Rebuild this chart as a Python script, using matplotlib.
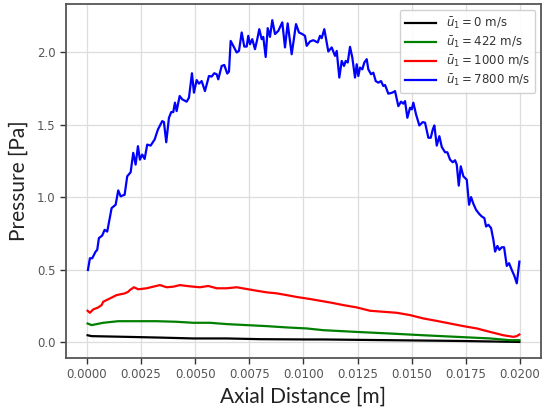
import matplotlib
matplotlib.use("Agg")
import matplotlib.pyplot as plt

# ---- data ----
blue_x = [0.000046, 0.000139, 0.000245, 0.000402, 0.000476, 0.000554, 0.000707, 0.000818, 0.000938, 0.001141,
          0.001326, 0.001446, 0.001557, 0.001741, 0.001861, 0.002019, 0.002139, 0.002249, 0.002356, 0.002448,
          0.002554, 0.002665, 0.002785, 0.002942, 0.003127, 0.003279, 0.003478, 0.003557, 0.003663, 0.003788,
          0.003894, 0.003986, 0.004065, 0.004143, 0.004282, 0.004402, 0.004605, 0.004711, 0.004850, 0.004942,
          0.005067, 0.005173, 0.005298, 0.005450, 0.005635, 0.005760, 0.005880, 0.005991, 0.006065, 0.006222,
          0.006342, 0.006480, 0.006559, 0.006637, 0.006758, 0.006915, 0.007021, 0.007146, 0.007266, 0.007377,
          0.007450, 0.007529, 0.007635, 0.007760, 0.007866, 0.007958, 0.008069, 0.008143, 0.008254, 0.008347,
          0.008453, 0.008559, 0.008684, 0.008836, 0.009021, 0.009146, 0.009270, 0.009455, 0.009654, 0.009792,
          0.009945, 0.010069, 0.010148, 0.010300, 0.010453, 0.010656, 0.010762, 0.010841, 0.010961, 0.011146,
          0.011303, 0.011455, 0.011534, 0.011654, 0.011765, 0.011871, 0.011949, 0.012042, 0.012148, 0.012254,
          0.012379, 0.012457, 0.012531, 0.012610, 0.012716, 0.012808, 0.012919, 0.012993, 0.013118, 0.013224,
          0.013335, 0.013455, 0.013580, 0.013686, 0.013765, 0.013917, 0.014102, 0.014226, 0.014379, 0.014504,
          0.014610, 0.014688, 0.014795, 0.014919, 0.014998, 0.015072, 0.015197, 0.015349, 0.015506, 0.015612,
          0.015765, 0.015876, 0.015968, 0.016042, 0.016153, 0.016273, 0.016384, 0.016536, 0.016642, 0.016767,
          0.016892, 0.016998, 0.017076, 0.017169, 0.017261, 0.017382, 0.017538, 0.017645, 0.017737, 0.017843,
          0.017968, 0.018106, 0.018231, 0.018351, 0.018430, 0.018536, 0.018661, 0.018767, 0.018846, 0.018952,
          0.019044, 0.019155, 0.019261, 0.019386, 0.019492, 0.019617, 0.019737, 0.019848, 0.019968]
blue_y = [0.498, 0.579, 0.579, 0.625, 0.637, 0.718, 0.736, 0.775, 0.763, 0.925,
          0.948, 1.047, 1.006, 1.017, 1.144, 1.172, 1.306, 1.225, 1.352, 1.259,
          1.294, 1.264, 1.363, 1.356, 1.398, 1.467, 1.525, 1.518, 1.379, 1.548,
          1.587, 1.587, 1.652, 1.594, 1.698, 1.675, 1.659, 1.686, 1.855, 1.721,
          1.808, 1.783, 1.801, 1.732, 1.836, 1.832, 1.855, 1.848, 1.813, 1.905,
          1.912, 1.853, 1.866, 2.078, 2.044, 1.998, 2.009, 2.136, 2.039, 2.039,
          2.113, 2.055, 2.090, 2.021, 2.090, 2.159, 2.090, 2.106, 1.967, 2.166,
          2.106, 2.221, 2.125, 2.147, 2.206, 2.033, 2.199, 1.986, 2.194, 2.136,
          2.125, 2.113, 2.044, 2.074, 2.083, 2.067, 2.113, 2.097, 2.159, 2.005,
          2.033, 1.975, 2.009, 1.825, 1.940, 1.905, 1.940, 1.929, 2.037, 1.963,
          1.825, 1.917, 1.836, 1.894, 1.882, 1.929, 1.952, 1.882, 1.848, 1.859,
          1.801, 1.790, 1.801, 1.767, 1.774, 1.714, 1.721, 1.732, 1.628, 1.659,
          1.645, 1.663, 1.548, 1.617, 1.606, 1.652, 1.571, 1.495, 1.518, 1.514,
          1.410, 1.410, 1.467, 1.495, 1.356, 1.421, 1.347, 1.310, 1.310, 1.259,
          1.241, 1.255, 1.225, 1.080, 1.213, 1.144, 1.121, 0.948, 1.001, 0.955,
          0.913, 0.886, 0.867, 0.856, 0.798, 0.810, 0.787, 0.706, 0.625, 0.664,
          0.637, 0.655, 0.655, 0.526, 0.545, 0.498, 0.457, 0.406, 0.556]

red_x = [0.000032, 0.000139, 0.000291, 0.000522, 0.000679, 0.000753, 0.001062, 0.001372, 0.001755, 0.001908,
         0.001986, 0.002171, 0.002370, 0.002758, 0.003062, 0.003372, 0.003681, 0.003986, 0.004296, 0.004605,
         0.004910, 0.005219, 0.005603, 0.005991, 0.006453, 0.006915, 0.007377, 0.007838, 0.008300, 0.008762,
         0.009224, 0.009686, 0.010300, 0.010762, 0.011303, 0.011838, 0.012457, 0.013072, 0.013686, 0.014305,
         0.014919, 0.015534, 0.016153, 0.016767, 0.017382, 0.018000, 0.018614, 0.019229, 0.019691, 0.019848,
         0.019968]
red_y = [0.217, 0.203, 0.226, 0.240, 0.256, 0.279, 0.302, 0.325, 0.337, 0.348,
         0.360, 0.379, 0.365, 0.372, 0.383, 0.394, 0.379, 0.383, 0.394, 0.388,
         0.383, 0.379, 0.388, 0.372, 0.372, 0.379, 0.367, 0.355, 0.344, 0.337,
         0.325, 0.312, 0.298, 0.286, 0.272, 0.256, 0.240, 0.217, 0.210, 0.203,
         0.187, 0.164, 0.147, 0.129, 0.111, 0.095, 0.071, 0.048, 0.037, 0.042,
         0.053]

green_x = [0.000032, 0.000217, 0.000753, 0.001446, 0.002448, 0.003219, 0.004143, 0.004910, 0.005681, 0.006453,
           0.007377, 0.008300, 0.009224, 0.010148, 0.010915, 0.012457, 0.013996, 0.015534, 0.017076, 0.018614,
           0.019538, 0.019968]
green_y = [0.129, 0.118, 0.134, 0.145, 0.145, 0.145, 0.141, 0.134, 0.134, 0.125,
           0.118, 0.111, 0.102, 0.095, 0.083, 0.071, 0.060, 0.048, 0.037, 0.026,
           0.014, 0.014]

black_x = [0.000032, 0.000217, 0.001834, 0.003372, 0.004910, 0.006453, 0.007991, 0.010148, 0.010915, 0.013996,
           0.017076, 0.019968]
black_y = [0.048, 0.042, 0.037, 0.032, 0.026, 0.026, 0.021, 0.019, 0.019, 0.014,
           0.009, 0.002]

labels = [r"$\bar{u}_1 = 0\ \mathrm{m/s}$", r"$\bar{u}_1 = 422\ \mathrm{m/s}$",
          r"$\bar{u}_1 = 1000\ \mathrm{m/s}$", r"$\bar{u}_1 = 7800\ \mathrm{m/s}$"]
xticks = [0.0, 0.0025, 0.005, 0.0075, 0.01, 0.0125, 0.015, 0.0175, 0.02]
yticks = [0.0, 0.5, 1.0, 1.5, 2.0]

# ---- figure ----
plt.rcParams["mathtext.fontset"] = "dejavusans"
fig = plt.figure(figsize=(5.46, 4.08), dpi=100)
ax = fig.add_axes([0.1209, 0.1225, 0.8699, 0.8675])

ax.plot(black_x, black_y, color="black", lw=1.6, label=labels[0])
ax.plot(green_x, green_y, color="green", lw=1.6, label=labels[1])
ax.plot(red_x, red_y, color="red", lw=1.6, label=labels[2])
ax.plot(blue_x, blue_y, color="blue", lw=1.6, label=labels[3])

ax.set_xticks(xticks)
ax.set_yticks(yticks)
ax.set_xticklabels([f"{v:.4f}" for v in xticks])
ax.set_yticklabels([f"{v:.1f}" for v in yticks])
ax.grid(True, color="#dddddd", lw=0.9)
ax.set_axisbelow(True)
for s in ax.spines.values():
    s.set_color("#555555")
    s.set_linewidth(1.3)
ax.tick_params(axis="both", colors="#333333", labelcolor="#555555", labelsize=8.5,
               direction="out", length=4, width=1)

ax.set_xlabel("Axial Distance [m]", fontsize=15, family="Lato", color="#222222", labelpad=4)
ax.set_ylabel("Pressure [Pa]", fontsize=15, family="Lato", color="#222222", labelpad=6)

leg = ax.legend(loc="upper right", fontsize=8.5, frameon=True, fancybox=True,
                edgecolor="#cccccc", framealpha=0.9, handlelength=2.6,
                labelspacing=0.3, borderpad=0.45, handletextpad=0.8)
for t in leg.get_texts():
    t.set_color("#333333")

fig.savefig("out.png", dpi=100)
